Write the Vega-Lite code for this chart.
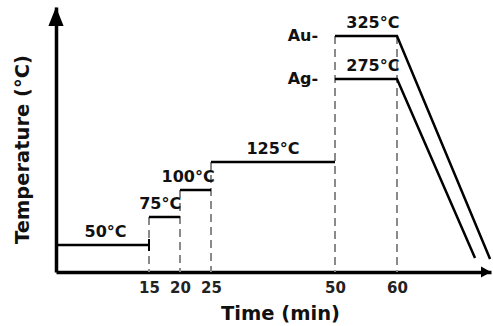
{
  "$schema": "https://vega.github.io/schema/vega-lite/v6.json",
  "width": 435,
  "height": 265,
  "autosize": {"type": "none"},
  "padding": {"left": 56, "top": 7, "right": 2, "bottom": 54},
  "background": "white",
  "config": {"view": {"stroke": null}, "font": "DejaVu Sans"},
  "datasets": {
    "guides": [
      {"t": 15, "temp": 75, "temp2": 25},
      {"t": 20, "temp": 100, "temp2": 25},
      {"t": 25, "temp": 125, "temp2": 25},
      {"t": 50, "temp": 325, "temp2": 25},
      {"t": 60, "temp": 325, "temp2": 25}
    ],
    "steps": [
      {"t": 0, "t2": 15, "temp": 50},
      {"t": 15, "t2": 20, "temp": 75},
      {"t": 20, "t2": 25, "temp": 100},
      {"t": 25, "t2": 50, "temp": 125}
    ],
    "profiles": [
      {"series": "Au", "step": 1, "t": 50, "temp": 325},
      {"series": "Au", "step": 2, "t": 60, "temp": 325},
      {"series": "Au", "step": 3, "t": 79.8, "temp": 37},
      {"series": "Ag", "step": 1, "t": 50, "temp": 275},
      {"series": "Ag", "step": 2, "t": 60, "temp": 275},
      {"series": "Ag", "step": 3, "t": 76.6, "temp": 38}
    ],
    "endTicks": [
      {"t": 15, "temp": 50}
    ],
    "arrows": [
      {"head": "up", "t": 0, "temp": 375},
      {"head": "right", "t": 80, "temp": 25}
    ],
    "labels": [
      {"label": "50°C", "t": 8, "temp": 50},
      {"label": "75°C", "t": 16.8, "temp": 75},
      {"label": "100°C", "t": 21.3, "temp": 100},
      {"label": "125°C", "t": 37.5, "temp": 125},
      {"label": "325°C", "t": 56.1, "temp": 325},
      {"label": "275°C", "t": 56.1, "temp": 275}
    ],
    "metals": [
      {"label": "Au-", "t": 46.6, "temp": 325},
      {"label": "Ag-", "t": 46.6, "temp": 275}
    ]
  },
  "layer": [
    {
      "data": {"name": "guides"},
      "mark": {"type": "rule", "color": "#8a8a8a", "strokeWidth": 2, "strokeDash": [8, 5]},
      "encoding": {
        "x": {
          "field": "t",
          "type": "quantitative",
          "scale": {
            "domain": [0, 15, 20, 25, 50, 60, 80],
            "range": [0, 93, 124, 155, 279, 341, 435],
            "nice": false,
            "zero": false
          },
          "axis": {
            "title": "Time (min)",
            "values": [15, 20, 25, 50, 60],
            "grid": false,
            "ticks": false,
            "tickSize": 0,
            "domainColor": "black",
            "domainWidth": 3.5,
            "labelFontWeight": "bold",
            "labelFontSize": 15,
            "labelColor": "#222222",
            "labelBaseline": "middle",
            "labelPadding": 15,
            "labelFlush": false,
            "labelOverlap": false,
            "titleFontSize": 19.5,
            "titleFontWeight": "bold",
            "titleColor": "#111111",
            "titleX": 224,
            "titleY": 41,
            "titleBaseline": "middle",
            "titleAlign": "center"
          }
        },
        "y": {
          "field": "temp",
          "type": "quantitative",
          "scale": {
            "domain": [25, 50, 75, 100, 125, 275, 325, 375],
            "range": [265, 238, 210, 183, 155, 72, 29, 0],
            "nice": false,
            "zero": false
          },
          "axis": {
            "title": "Temperature (°C)",
            "labels": false,
            "ticks": false,
            "grid": false,
            "domainColor": "black",
            "domainWidth": 3.5,
            "titleFontSize": 19.5,
            "titleFontWeight": "bold",
            "titleColor": "#111111",
            "titleAngle": 270,
            "titleX": -34,
            "titleY": 142,
            "titleBaseline": "middle",
            "titleAlign": "center"
          }
        },
        "y2": {"field": "temp2"}
      }
    },
    {
      "data": {"name": "steps"},
      "mark": {"type": "rule", "color": "black", "strokeWidth": 2.5},
      "encoding": {
        "x": {"field": "t", "type": "quantitative"},
        "x2": {"field": "t2"},
        "y": {"field": "temp", "type": "quantitative"}
      }
    },
    {
      "data": {"name": "profiles"},
      "mark": {"type": "line", "color": "black", "strokeWidth": 2.5, "strokeJoin": "miter"},
      "encoding": {
        "x": {"field": "t", "type": "quantitative"},
        "y": {"field": "temp", "type": "quantitative"},
        "detail": {"field": "series"},
        "order": {"field": "step"}
      }
    },
    {
      "data": {"name": "endTicks"},
      "mark": {"type": "tick", "orient": "vertical", "color": "black", "size": 12, "thickness": 2, "opacity": 1},
      "encoding": {
        "x": {"field": "t", "type": "quantitative"},
        "y": {"field": "temp", "type": "quantitative"}
      }
    },
    {
      "data": {"name": "arrows"},
      "transform": [{"filter": "datum.head === 'up'"}],
      "mark": {"type": "point", "shape": "M0,0L-0.4,1L0.4,1Z", "size": 1444, "filled": true, "color": "black", "opacity": 1, "strokeWidth": 0},
      "encoding": {
        "x": {"field": "t", "type": "quantitative"},
        "y": {"field": "temp", "type": "quantitative"}
      }
    },
    {
      "data": {"name": "arrows"},
      "transform": [{"filter": "datum.head === 'right'"}],
      "mark": {"type": "point", "shape": "M0,0L-1,-0.55L-1,0.55Z", "size": 400, "filled": true, "color": "black", "opacity": 1, "strokeWidth": 0},
      "encoding": {
        "x": {"field": "t", "type": "quantitative"},
        "y": {"field": "temp", "type": "quantitative"}
      }
    },
    {
      "data": {"name": "labels"},
      "mark": {"type": "text", "fontSize": 16, "fontWeight": "bold", "color": "#111111", "align": "center", "baseline": "middle", "dy": -13},
      "encoding": {
        "x": {"field": "t", "type": "quantitative"},
        "y": {"field": "temp", "type": "quantitative"},
        "text": {"field": "label"}
      }
    },
    {
      "data": {"name": "metals"},
      "mark": {"type": "text", "fontSize": 16, "fontWeight": "bold", "color": "#111111", "align": "right", "baseline": "middle"},
      "encoding": {
        "x": {"field": "t", "type": "quantitative"},
        "y": {"field": "temp", "type": "quantitative"},
        "text": {"field": "label"}
      }
    }
  ]
}
